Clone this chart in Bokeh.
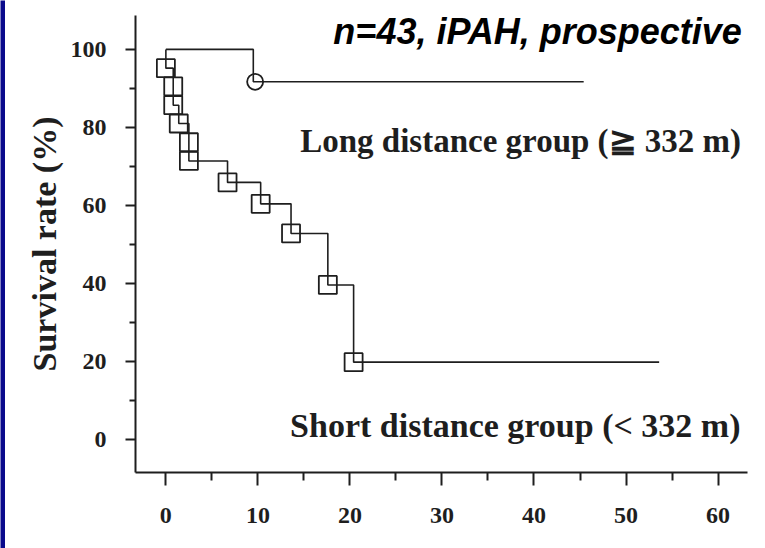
from bokeh.plotting import figure
from bokeh.models import FixedTicker, Label, Range1d
from bokeh.layouts import row, column
from bokeh.embed import file_html
from bokeh.resources import INLINE

# ---- data ----
x_major_ticks = [0, 10, 20, 30, 40, 50, 60]
x_minor_ticks = [5, 15, 25, 35, 45, 55]
y_major_ticks = [0, 20, 40, 60, 80, 100]
y_minor_ticks = [10, 30, 50, 70, 90]

# Long distance group (>= 332 m): Kaplan-Meier steps (months, survival %)
long_time = [0, 9.5, 45.4]
long_surv = [100, 91.7, 91.7]
long_mark_time = [9.7]
long_mark_surv = [91.7]

# Short distance group (< 332 m)
short_time = [0, 0, 0.8, 0.8, 1.4, 2.5, 2.5, 6.7, 10.3, 13.6, 17.6, 20.4, 53.6]
short_surv = [100, 95.2, 90.5, 85.7, 81.0, 76.2, 71.4, 65.9, 60.4, 52.8, 39.6, 19.8, 19.8]
short_mark_time = short_time[1:-1]
short_mark_surv = short_surv[1:-1]

NAVY = "#0a0a8c"
INK = "#1e1e1e"

p = figure(width=760, height=544,
           x_range=Range1d(-3.3, 63.2), y_range=Range1d(-8.5, 108.7),
           output_backend="svg", toolbar_location=None,
           min_border_left=130, min_border_right=18,
           min_border_top=11, min_border_bottom=76)
p.outline_line_color = None
p.grid.visible = False
p.background_fill_color = "white"
p.border_fill_color = "white"

p.step(long_time, long_surv, mode="after", line_color=INK, line_width=1.6)
p.step(short_time, short_surv, mode="after", line_color=INK, line_width=1.6)
p.scatter(long_mark_time, long_mark_surv, marker="circle", size=16,
          fill_color=None, line_color=INK, line_width=1.8)
p.scatter(short_mark_time, short_mark_surv, marker="square", size=18,
          fill_color=None, line_color=INK, line_width=1.8)

for ax in (p.xaxis[0], p.yaxis[0]):
    ax.axis_line_color = INK
    ax.axis_line_width = 2
    ax.major_tick_line_color = INK
    ax.major_tick_line_width = 2
    ax.minor_tick_line_color = INK
    ax.minor_tick_line_width = 2
    ax.major_tick_in = 0
    ax.minor_tick_in = 0
    ax.major_label_text_font = "Liberation Serif"
    ax.major_label_text_font_style = "bold"
    ax.major_label_text_font_size = "24px"
    ax.major_label_text_color = INK

p.xaxis.ticker = FixedTicker(ticks=x_major_ticks, minor_ticks=x_minor_ticks)
p.yaxis.ticker = FixedTicker(ticks=y_major_ticks, minor_ticks=y_minor_ticks)
p.xaxis.major_tick_out = 13
p.xaxis.minor_tick_out = 8
p.xaxis.major_label_standoff = 22
p.yaxis.major_tick_out = 10
p.yaxis.minor_tick_out = 6
p.yaxis.major_label_standoff = 19

p.yaxis.axis_label = "Survival rate (%)"
p.yaxis.axis_label_text_font = "Liberation Serif"
p.yaxis.axis_label_text_font_style = "bold"
p.yaxis.axis_label_text_font_size = "34px"
p.yaxis.axis_label_text_color = INK
p.yaxis.axis_label_standoff = 5

p.add_layout(Label(x=18.2, y=104.6, text="n=43, iPAH, prospective",
                   text_font="Liberation Sans", text_font_style="bold italic",
                   text_font_size="36px", text_color="black",
                   text_baseline="alphabetic"))
p.add_layout(Label(x=14.6, y=76.5, text="Long distance group (≧ 332 m)",
                   text_font="Liberation Serif", text_font_style="bold",
                   text_font_size="33px", text_color=INK,
                   text_baseline="alphabetic"))
p.add_layout(Label(x=13.5, y=3.5, text="Short distance group (< 332 m)",
                   text_font="Liberation Serif", text_font_style="bold",
                   text_font_size="34px", text_color=INK,
                   text_baseline="alphabetic"))


def navy_bar(w, h):
    b = figure(width=w, height=h, title=None,
               output_backend="svg", toolbar_location=None,
               min_border=0, x_axis_location=None, y_axis_location=None)
    b.grid.visible = False
    b.outline_line_color = None
    b.background_fill_color = NAVY
    b.border_fill_color = NAVY
    return b


# navy slide frame on the top and left edges
left_bar = navy_bar(5, 548)
top_bar = navy_bar(760, 4)
layout = row(left_bar, column(top_bar, p, spacing=0), spacing=0)

open("out.html", "w").write(file_html(layout, INLINE))
